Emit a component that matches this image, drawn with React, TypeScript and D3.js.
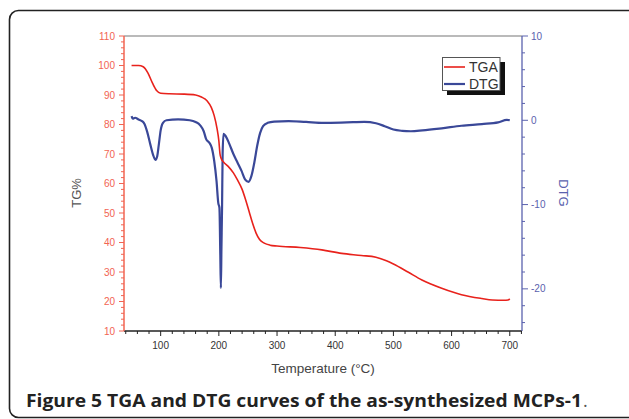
import React, { useEffect, useRef } from 'react';
import * as d3 from 'd3';

// TGA curve (TG %, left axis)
const tgaTemp = [50, 62, 70, 78, 86, 93, 100, 115, 140, 160, 170, 180, 187, 192, 197, 200, 202, 204, 208, 216, 225, 232, 240, 246, 252, 258, 264, 270, 278, 288, 300, 340, 377, 411, 445, 470, 488, 500, 525, 549, 583, 617, 652, 670, 690, 697, 700];
const tgaValue = [100, 100, 99.6, 97.5, 94, 91.5, 90.6, 90.4, 90.3, 90, 89.3, 88, 85.8, 83, 78.5, 74.5, 70, 68.5, 67.3, 65.8, 63.6, 61.2, 58, 54.5, 50.5, 46.5, 43.2, 41, 39.8, 39.1, 38.8, 38.3, 37.5, 36.3, 35.6, 35, 33.8, 32.7, 30, 27.3, 24.5, 22.3, 21, 20.5, 20.4, 20.5, 20.9];

// DTG curve (right axis)
const dtgTemp = [50, 52, 56, 62, 68, 72, 77, 82, 87, 91, 94, 97, 100, 104, 110, 130, 150, 160, 168, 174, 178, 184, 188, 192, 196, 199, 201, 202.5, 203.5, 204.5, 205.5, 206.5, 208, 212, 218, 225, 232, 239, 245, 251, 256, 261, 266, 271, 276, 284, 295, 320, 350, 380, 420, 450, 470, 485, 500, 515, 530, 550, 583, 617, 652, 680, 695, 700];
const dtgValue = [0.5, 0.2, 0.3, 0.1, -0.1, -0.4, -1.4, -2.8, -4.1, -4.7, -4.3, -2.8, -1.2, -0.3, 0, 0.1, 0, -0.2, -0.6, -1.3, -2.2, -2.7, -3.3, -4.8, -7.2, -9.8, -10.4, -16, -19.9, -15, -10.4, -4, -1.6, -1.9, -2.8, -4, -5, -6, -7, -7.3, -6.6, -5, -3, -1.5, -0.7, -0.3, -0.15, -0.1, -0.2, -0.3, -0.25, -0.2, -0.35, -0.7, -1.1, -1.25, -1.3, -1.2, -0.95, -0.65, -0.45, -0.25, 0.05, 0];

const xTickValues = [100, 200, 300, 400, 500, 600, 700];
const leftTickValues = [10, 20, 30, 40, 50, 60, 70, 80, 90, 100, 110];
const rightTickValues = [10, 0, -10, -20];
const seriesNames = ['TGA', 'DTG'];

const RED = '#e8221c';
const BLUE = '#3a4898';
const LEFT_AXIS = '#f26452';
const RIGHT_AXIS = '#5a62ae';
const FONT = 'Liberation Sans, Arial, sans-serif';

function ThermoChart() {
  const svgRef = useRef(null);

  useEffect(() => {
    const svg = d3.select(svgRef.current);
    svg.selectAll('*').remove();

    const dims = { left: 124, right: 522, top: 36, bottom: 331 };

    const xScale = d3.scaleLinear().domain([37, 721]).range([dims.left, dims.right]);
    const yLeft = d3.scaleLinear().domain([10, 110]).range([dims.bottom, dims.top]);
    const yRight = d3.scaleLinear().domain([-25, 10]).range([dims.bottom, dims.top]);

    // frame
    svg
      .append('rect')
      .attr('x', 9.5)
      .attr('y', 10.5)
      .attr('width', 660)
      .attr('height', 407)
      .attr('rx', 9)
      .attr('fill', 'white')
      .attr('stroke', '#222')
      .attr('stroke-width', 1.6);

    // top border
    svg
      .append('line')
      .attr('x1', dims.left)
      .attr('x2', dims.right)
      .attr('y1', dims.top)
      .attr('y2', dims.top)
      .attr('stroke', '#777')
      .attr('stroke-width', 1.2);

    // x axis
    const xMinor = d3.range(40, 721, 20);
    const xAxis = svg.append('g').attr('transform', `translate(0,${dims.bottom})`);
    xAxis
      .append('line')
      .attr('x1', dims.left)
      .attr('x2', dims.right)
      .attr('stroke', '#222')
      .attr('stroke-width', 1.3);
    xAxis
      .selectAll('line.tick')
      .data(xMinor)
      .enter()
      .append('line')
      .attr('class', 'tick')
      .attr('x1', (d) => xScale(d))
      .attr('x2', (d) => xScale(d))
      .attr('y1', 0)
      .attr('y2', (d) => (d % 100 === 0 ? 5 : 3))
      .attr('stroke', '#222')
      .attr('stroke-width', 1);
    xAxis
      .selectAll('text')
      .data(xTickValues)
      .enter()
      .append('text')
      .attr('x', (d) => xScale(d))
      .attr('y', 18)
      .attr('text-anchor', 'middle')
      .attr('font-family', FONT)
      .attr('font-size', 10)
      .attr('fill', '#333')
      .text((d) => d);

    // left axis
    const leftMinor = d3.range(10, 111, 2);
    const leftAxis = svg.append('g').attr('transform', `translate(${dims.left},0)`);
    leftAxis
      .append('line')
      .attr('y1', dims.top)
      .attr('y2', dims.bottom)
      .attr('stroke', LEFT_AXIS)
      .attr('stroke-width', 1.5);
    leftAxis
      .selectAll('line.tick')
      .data(leftMinor)
      .enter()
      .append('line')
      .attr('class', 'tick')
      .attr('x1', (d) => (d % 10 === 0 ? -5 : -3))
      .attr('x2', 0)
      .attr('y1', (d) => yLeft(d))
      .attr('y2', (d) => yLeft(d))
      .attr('stroke', LEFT_AXIS)
      .attr('stroke-width', 1);
    leftAxis
      .selectAll('text')
      .data(leftTickValues)
      .enter()
      .append('text')
      .attr('x', -9)
      .attr('y', (d) => yLeft(d))
      .attr('dy', '0.35em')
      .attr('text-anchor', 'end')
      .attr('font-family', FONT)
      .attr('font-size', 10)
      .attr('fill', LEFT_AXIS)
      .text((d) => d);

    // right axis
    const rightMinor = d3.range(-24, 11, 2);
    const rightAxis = svg.append('g').attr('transform', `translate(${dims.right},0)`);
    rightAxis
      .append('line')
      .attr('y1', dims.top)
      .attr('y2', dims.bottom)
      .attr('stroke', RIGHT_AXIS)
      .attr('stroke-width', 1.3);
    rightAxis
      .selectAll('line.tick')
      .data(rightMinor)
      .enter()
      .append('line')
      .attr('class', 'tick')
      .attr('x1', 0)
      .attr('x2', (d) => (d % 10 === 0 ? 6 : 3))
      .attr('y1', (d) => yRight(d))
      .attr('y2', (d) => yRight(d))
      .attr('stroke', RIGHT_AXIS)
      .attr('stroke-width', 1);
    rightAxis
      .selectAll('text')
      .data(rightTickValues)
      .enter()
      .append('text')
      .attr('x', 9)
      .attr('y', (d) => yRight(d))
      .attr('dy', '0.35em')
      .attr('font-family', FONT)
      .attr('font-size', 10)
      .attr('fill', RIGHT_AXIS)
      .text((d) => d);

    // axis titles
    svg
      .append('text')
      .attr('transform', 'translate(81,193) rotate(-90)')
      .attr('text-anchor', 'middle')
      .attr('font-family', FONT)
      .attr('font-size', 13)
      .attr('fill', '#555')
      .text('TG%');
    svg
      .append('text')
      .attr('transform', 'translate(559,193) rotate(90)')
      .attr('text-anchor', 'middle')
      .attr('font-family', FONT)
      .attr('font-size', 13)
      .attr('fill', RIGHT_AXIS)
      .text('DTG');
    svg
      .append('text')
      .attr('x', 323)
      .attr('y', 373)
      .attr('text-anchor', 'middle')
      .attr('font-family', FONT)
      .attr('font-size', 13.5)
      .attr('fill', '#444')
      .text('Temperature (°C)');

    // data
    const tgaLine = d3
      .line()
      .x((d, i) => xScale(tgaTemp[i]))
      .y((d) => yLeft(d))
      .curve(d3.curveMonotoneX);
    const dtgLine = d3
      .line()
      .x((d, i) => xScale(dtgTemp[i]))
      .y((d) => yRight(d))
      .curve(d3.curveMonotoneX);

    svg
      .append('path')
      .attr('d', dtgLine(dtgValue))
      .attr('fill', 'none')
      .attr('stroke', BLUE)
      .attr('stroke-width', 2.2);
    svg
      .append('path')
      .attr('d', tgaLine(tgaValue))
      .attr('fill', 'none')
      .attr('stroke', RED)
      .attr('stroke-width', 1.6);

    // legend
    const legend = svg.append('g').attr('transform', 'translate(442,57)');
    legend.append('rect').attr('x', 5).attr('y', 5).attr('width', 58).attr('height', 33).attr('fill', '#111');
    legend
      .append('rect')
      .attr('x', 0.5)
      .attr('y', 0.5)
      .attr('width', 57.5)
      .attr('height', 33)
      .attr('fill', 'white')
      .attr('stroke', '#555')
      .attr('stroke-width', 1);
    const colors = [RED, BLUE];
    seriesNames.forEach((name, i) => {
      legend
        .append('line')
        .attr('x1', 2)
        .attr('x2', 23)
        .attr('y1', 10 + i * 17)
        .attr('y2', 10 + i * 17)
        .attr('stroke', colors[i])
        .attr('stroke-width', i === 0 ? 1.6 : 2.2);
      legend
        .append('text')
        .attr('x', 27)
        .attr('y', 15 + i * 17)
        .attr('font-family', FONT)
        .attr('font-size', 14)
        .attr('fill', '#333')
        .text(name);
    });

    // caption
    svg
      .append('text')
      .attr('x', 26)
      .attr('y', 407)
      .attr('font-family', 'Open Sans, Noto Sans, sans-serif')
      .attr('font-weight', 700)
      .attr('font-size', 18)
      .attr('fill', '#222')
      .attr('textLength', 556)
      .attr('lengthAdjust', 'spacingAndGlyphs')
      .text('Figure 5 TGA and DTG curves of the as-synthesized MCPs-1');
    svg
      .append('text')
      .attr('x', 583)
      .attr('y', 407)
      .attr('font-family', 'Open Sans, Noto Sans, sans-serif')
      .attr('font-size', 18)
      .attr('fill', '#555')
      .text('.');
  }, []);

  return (
    <svg
      ref={svgRef}
      width={629}
      height={419}
      style={{ position: 'absolute', left: 0, top: 0, display: 'block' }}
    />
  );
}

export default function App() {
  return <ThermoChart />;
}
